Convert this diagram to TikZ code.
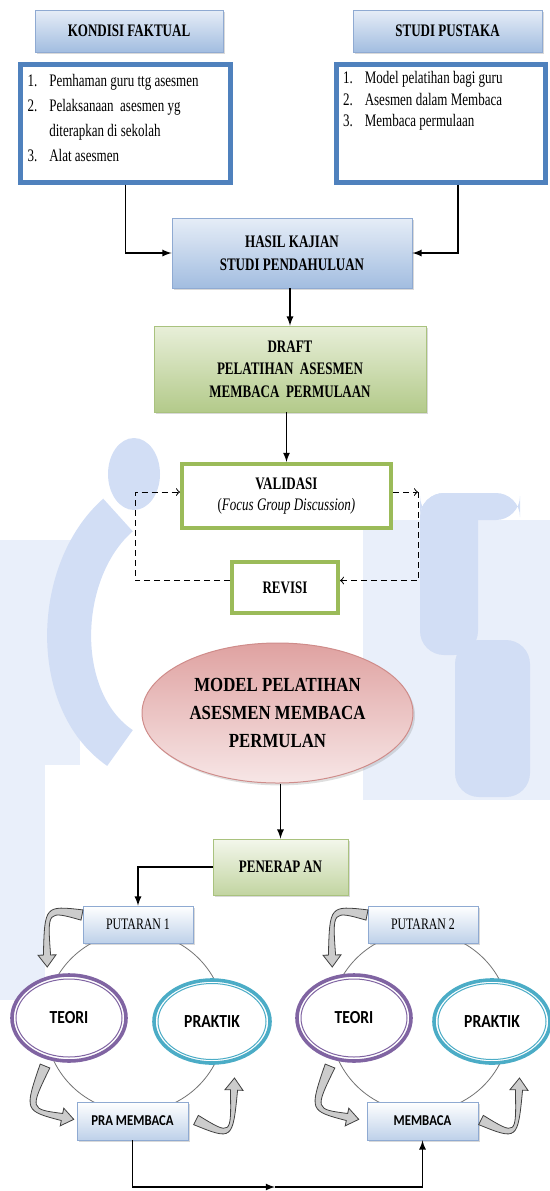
\documentclass[tikz,border=0pt]{standalone}
\usepackage{fontspec}
\setmainfont{Liberation Serif}
\newfontfamily\condfont[FakeStretch=0.74]{Liberation Serif}
\newfontfamily\modelfont[FakeStretch=0.84]{Liberation Serif}
\newfontfamily\capfont[FakeStretch=0.85]{Carlito}
\usepackage{tikz}
\usetikzlibrary{calc,shapes,arrows,shadows}

\definecolor{hdrtop}{HTML}{E6EDF7}
\definecolor{hdrbot}{HTML}{A2BDE0}
\definecolor{hdrline}{HTML}{8FAAD2}
\definecolor{listblue}{HTML}{4F81BD}
\definecolor{drafttop}{HTML}{E8EFD9}
\definecolor{draftbot}{HTML}{B3CA8A}
\definecolor{draftline}{HTML}{A9C27E}
\definecolor{valgreen}{HTML}{9BBB59}
\definecolor{modtop}{HTML}{DFA2A1}
\definecolor{modbot}{HTML}{F7E6E6}
\definecolor{modline}{HTML}{CF8C8A}
\definecolor{teoripurple}{HTML}{8064A2}
\definecolor{praktikteal}{HTML}{4BACC6}
\definecolor{wmlight}{HTML}{E9EFFA}
\definecolor{wmdark}{HTML}{D2DEF5}

% curved block arrow: tail, bend point, head base
\newcommand{\bendarrow}[3]{%
  \coordinate (ba0) at #1;
  \coordinate (bac) at #2;
  \coordinate (baq) at #3;
  \coordinate (bal0) at ($(ba0)!2.6pt!90:(bac)$);
  \coordinate (bar0) at ($(ba0)!2.6pt!-90:(bac)$);
  \coordinate (bal1) at ($(baq)!1.8pt!-90:(bac)$);
  \coordinate (bar1) at ($(baq)!1.8pt!90:(bac)$);
  \coordinate (bahl) at ($(baq)!4.5pt!-90:(bac)$);
  \coordinate (bahr) at ($(baq)!4.5pt!90:(bac)$);
  \coordinate (batip) at ($(baq)!-6pt!(bac)$);
  \coordinate (bacl) at ($(bac)+0.5*(bal0)-0.5*(ba0)+0.5*(bal1)-0.5*(baq)$);
  \coordinate (bacr) at ($(bac)+0.5*(bar0)-0.5*(ba0)+0.5*(bar1)-0.5*(baq)$);
  \draw[bendfill] (bal0) .. controls (bacl) .. (bal1) -- (bahl) -- (batip)
    -- (bahr) -- (bar1) .. controls (bacr) .. (bar0) -- cycle;
}

\tikzset{
  hdrbox/.style={rectangle, draw=hdrline, line width=0.4pt, top color=hdrtop,
    bottom color=hdrbot, inner sep=0pt, align=center,
    drop shadow={shadow xshift=1pt, shadow yshift=-1.2pt, opacity=0.3},
    font=\condfont\bfseries\fontsize{8.8}{11.3}\selectfont},
  listbox/.style={rectangle, draw=listblue, line width=2.2pt, fill=white,
    inner sep=0pt, font=\condfont\fontsize{8.8}{11}\selectfont},
  draftbox/.style={rectangle, draw=draftline, line width=0.4pt, top color=drafttop,
    bottom color=draftbot, inner sep=0pt, align=center,
    drop shadow={shadow xshift=1pt, shadow yshift=-1.2pt, opacity=0.3},
    font=\condfont\bfseries\fontsize{8.8}{11.2}\selectfont},
  valbox/.style={rectangle, draw=valgreen, line width=2pt, fill=white,
    inner sep=0pt, align=center,
    font=\condfont\fontsize{8.8}{10.5}\selectfont},
  modelshape/.style={ellipse, draw=modline, line width=0.5pt, top color=modtop,
    bottom color=modbot, inner sep=0pt, align=center,
    drop shadow={shadow xshift=1pt, shadow yshift=-1.2pt, opacity=0.25},
    font=\modelfont\bfseries\fontsize{10}{14}\selectfont},
  roundbox/.style={rectangle, draw=hdrline, line width=0.4pt, top color=white,
    bottom color=hdrbot!70, inner sep=0pt,
    drop shadow={shadow xshift=0.8pt, shadow yshift=-1pt, opacity=0.3}},
  ringline/.style={draw=black!55, line width=0.4pt},
  teoriring/.style={ellipse, draw=teoripurple, line width=1.8pt, fill=white,
    inner sep=0pt, font=\capfont\bfseries\fontsize{9.2}{11}\selectfont},
  praktikring/.style={ellipse, draw=praktikteal, line width=1.8pt, fill=white,
    inner sep=0pt, font=\capfont\bfseries\fontsize{9.2}{11}\selectfont},
  bendfill/.style={fill=gray!40, draw=black!75, line width=0.4pt},
  conn/.style={line width=0.6pt, -latex},
  dashconn/.style={line width=0.5pt, densely dashed, ->},
}

\begin{document}
\begin{tikzpicture}[x=0.5pt,y=-0.5pt]
\useasboundingbox (0,0) rectangle (550,1191);

% watermark behind
\fill[wmlight] (0,540) rectangle (80,765);
\fill[wmlight] (0,765) rectangle (45,1000);
\fill[wmdark] (134,474) ellipse[x radius=26, y radius=36];
\draw[wmdark, line width=22pt] (118,515) .. controls (55,570) and (50,700) .. (120,748);
\fill[wmlight] (363,520) rectangle (550,800);
\fill[wmdark, rounded corners=12pt] (420,493) rectangle (520,520);
\fill[wmdark, rounded corners=12pt] (420,493) rectangle (478,655);
\fill[wmdark, rounded corners=12pt] (455,640) rectangle (530,797);

% top row
\node[hdrbox, minimum width=94pt, minimum height=21pt] (kondisi) at (129,31) {KONDISI FAKTUAL};
\node[hdrbox, minimum width=94.5pt, minimum height=21pt] (studi) at (447.5,31) {STUDI PUSTAKA};

\node[listbox, minimum width=105pt, minimum height=59pt] (faktual) at (125.5,123.5)
  {\parbox[c][55pt][t]{98pt}{\renewcommand{\arraystretch}{1.14}%
   \begin{tabular}{@{}l@{\hspace{6pt}}l@{}}
   1. & Pemhaman guru ttg asesmen\\
   2. & Pelaksanaan\ \ asesmen yg\\
      & diterapkan di sekolah\\
   3. & Alat asesmen
   \end{tabular}}};
\node[listbox, minimum width=104.5pt, minimum height=59pt] (pustaka) at (441,123.5)
  {\parbox[c][55pt][t]{98pt}{\renewcommand{\arraystretch}{0.98}%
   \begin{tabular}{@{}l@{\hspace{6pt}}l@{}}
   1. & Model pelatihan bagi\ guru\\
   2. & Asesmen dalam Membaca\\
   3. & Membaca permulaan
   \end{tabular}}};

\node[hdrbox, minimum width=120pt, minimum height=35pt] (hasil) at (292,253)
  {HASIL KAJIAN\\STUDI PENDAHULUAN};
\node[draftbox, minimum width=136pt, minimum height=43pt] (draft) at (290,369)
  {DRAFT\\PELATIHAN\ \ ASESMEN\\MEMBACA\ \ PERMULAAN};

\node[valbox, minimum width=104.5pt, minimum height=32pt] (validasi) at (286.5,496)
  {\textbf{VALIDASI}\\(\textit{Focus Group Discussion)}};
\node[valbox, minimum width=53pt, minimum height=25.5pt] (revisi) at (285,587.5)
  {\textbf{REVISI}};

\node[modelshape, minimum width=135.5pt, minimum height=70pt] (model) at (277.5,713)
  {MODEL PELATIHAN\\ASESMEN MEMBACA\\PERMULAN};
\node[draftbox, top color=drafttop!50, bottom color=draftbot!80, minimum width=67.5pt,
  minimum height=28pt] (penerapan) at (280.5,867) {PENERAP\,AN};

% connectors top part
\draw[conn] (faktual.south) |- (hasil.west);
\draw[conn] ([xshift=8.5pt]pustaka.south) |- (hasil.east);
\draw[conn] (hasil.south -| draft.north) -- (draft.north);
\draw[conn] (draft.south -| validasi.north) -- (validasi.north);
\coordinate (lpt) at (135,492);
\coordinate (rpt) at (418,492);
\draw[dashconn] ([yshift=3.5pt]revisi.west) -| (lpt) -- (lpt -| validasi.west);
\draw[dashconn] (validasi.east |- rpt) -- (rpt);
\draw[dashconn] (rpt) |- ([yshift=3.5pt]revisi.east);
\draw[conn] (model.south -| penerapan.north) -- (penerapan.north);

% two rounds
\foreach \n/\dx/\sx/\kx/\lab in {1/0/132.5/212/PRA MEMBACA, 2/285/422.5/492/MEMBACA} {
  \draw[ringline] (135+\dx,1022) circle[radius=90];
  \node[roundbox, minimum width=55pt, minimum height=18.5pt,
    font=\condfont\fontsize{8}{10}\selectfont] (putaran\n) at (138+\dx,924.5) {PUTARAN \n};
  \node[roundbox, minimum width=55.5pt, minimum height=19pt,
    font=\capfont\bfseries\fontsize{7.5}{9}\selectfont] (stage\n) at (\sx,1121) {\lab};
  \node[teoriring, minimum width=57pt, minimum height=43pt] (teori\n) at (69+\dx,1018) {TEORI};
  \draw[teoripurple, line width=0.5pt] (teori\n) ellipse[x radius=53, y radius=39];
  \node[praktikring, minimum width=58pt, minimum height=41.5pt] (praktik\n) at (\kx,1021.5) {PRAKTIK};
  \draw[praktikteal, line width=0.5pt] (praktik\n) ellipse[x radius=54, y radius=38];
  \bendarrow{(82+\dx,915)}{(46+\dx,908)}{(47+\dx,955)}
  \bendarrow{(45+\dx,1066)}{(27+\dx,1110)}{(62+\dx,1117)}
  \bendarrow{(196+\dx,1120)}{(232+\dx,1138)}{(234+\dx,1090)}
}

% connectors bottom part
\draw[conn] (penerapan.west) -| (putaran1.north);
\coordinate (mid) at (275,1187);
\draw[conn] (stage1.south) |- (mid);
\draw[conn] (mid) -| (stage2.south);
\end{tikzpicture}
\end{document}
